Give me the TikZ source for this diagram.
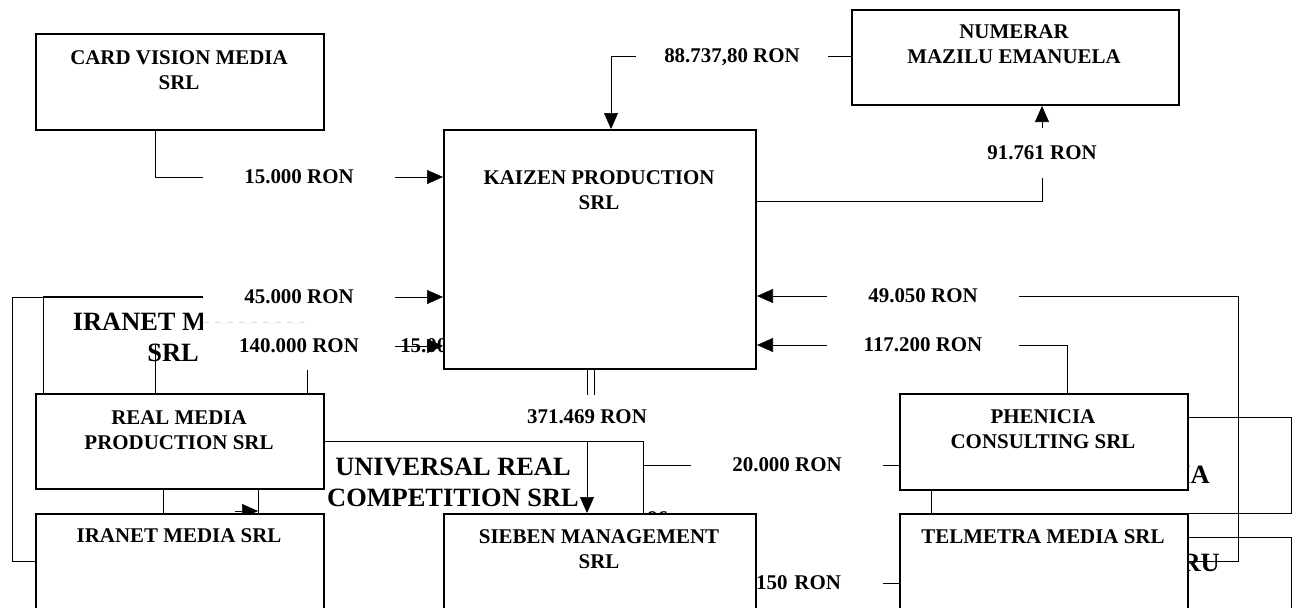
\documentclass[tikz,border=0pt]{standalone}
\usepackage{fontspec}
\setmainfont{Liberation Serif}
\usetikzlibrary{arrows.meta,calc}
\pgfdeclarelayer{bg}
\pgfdeclarelayer{mid}
\pgfsetlayers{bg,mid,main}
\begin{document}
\begin{tikzpicture}[x=0.75pt,y=-0.75pt,line width=1.5pt,
  box/.style={draw,fill=white,rectangle,inner sep=0pt,anchor=north west},
  boxtxt/.style={font=\bfseries\fontsize{15.7}{18.5}\selectfont,align=center,inner sep=0pt,anchor=north},
  bigtxt/.style={font=\bfseries\fontsize{19.8}{23.2}\selectfont,align=center,inner sep=0pt},
  lbl/.style={font=\bfseries\fontsize{15.7}{18.5}\selectfont,inner sep=0pt,text depth=0pt,minimum width=144pt},
  lblw/.style={lbl,fill=white},
  arr/.style={-{Triangle[length=12pt,width=10.5pt]}}]
\useasboundingbox (0,0) rectangle (1303,607);
\clip (0,0) rectangle (1303,607);

% main boxes
\node[box,minimum width=216pt,minimum height=72pt] (cv) at (35,33) {};
\node[box,minimum width=234pt,minimum height=179.25pt] (kz) at (443,129) {};
\node[box,minimum width=245.25pt,minimum height=71.25pt] (nm) at (851,9) {};
\node[box,minimum width=216pt,minimum height=71.25pt] (rm) at (35,393) {};
\node[box,minimum width=216pt,minimum height=95.25pt] (ir) at (35,513) {};
\node[box,minimum width=234pt,minimum height=95.25pt] (sb) at (443,513) {};
\node[box,minimum width=216pt,minimum height=72pt] (ph) at (899,393) {};
\node[box,minimum width=216pt,minimum height=95.25pt] (tm) at (899,513) {};

\node[boxtxt] (cvt) at (179,50) {CARD VISION MEDIA\\SRL};
\node[boxtxt] (kzt) at (599,170) {KAIZEN PRODUCTION\\SRL};
\node[boxtxt] (nmt) at (1014,24) {NUMERAR\\MAZILU EMANUELA};
\node[boxtxt] (rmt) at (179,410) {REAL MEDIA\\PRODUCTION SRL};
\node[boxtxt] (irt) at (179,528) {IRANET MEDIA SRL};
\node[boxtxt] (sbt) at (599,529) {SIEBEN MANAGEMENT\\SRL};
\node[boxtxt] (pht) at (1043,409) {PHENICIA\\CONSULTING SRL};
\node[boxtxt] (tmt) at (1043,529) {TELMETRA MEDIA SRL};

% labels covering hidden parts
\begin{pgfonlayer}{mid}
\node[lblw,minimum height=33.75pt] (l15) at (299,177) {15.000 RON};
\node[lblw,minimum height=37.5pt] (l45) at (299,297) {45.000 RON};
\node[lblw,minimum height=36pt] (l140) at (299,346) {140.000 RON};
\node[lbl,minimum width=0pt,text width=81pt,align=right,inner xsep=31.5pt] (l150) at (787,583) {.150 RON};
\end{pgfonlayer}

% other labels
\node[lbl] (l88) at (732,56) {88.737,80 RON};
\node[lbl,minimum height=37.5pt] (l91) at (1042,153) {91.761 RON};
\node[lbl] (l49) at (923,296) {49.050 RON};
\node[lbl] (l117) at (923,345) {117.200 RON};
\node[lbl] (l20) at (787,465) {20.000 RON};
\node[lbl,minimum height=36pt] (l371) at (587,417) {371.469 RON};

% hidden background elements
\begin{pgfonlayer}{bg}
\node[box,minimum width=198pt,minimum height=108pt] (hI) at (43,296) {};
\node[bigtxt,anchor=north] (hIt) at (173,313) {IRANET MEDIA\\SRL};
\node[box,minimum width=270pt,minimum height=72pt] (hA) at (931,417) {};
\node[bigtxt,anchor=east] (hAt) at (1210,475) {MEDIA};
\node[box,minimum width=270pt,minimum height=77.25pt] (hR) at (931,537) {};
\node[bigtxt,anchor=east] (hRt) at (1220,563) {RU};
\node[lbl,minimum width=0pt,anchor=west] (t15b) at (400,346) {15.000 RON};
\node[lbl,minimum width=0pt,anchor=base west] (t96) at (647,525) {96};
\draw[arr] ($(ir.north west)+(200,-2)$) -- ($(ir.north west)+(223,-2)$);
\end{pgfonlayer}

% connectors
\draw ($(cv.south west)+(120,0)$) |- (l15.west);
\draw[arr] (l15.east) -- (l15.east -| kz.west);
\draw (l45.west) -| ($(ir.north west)+(-23,48)$) -- ($(ir.north west)+(0,48)$);
\draw[arr] (l45.east) -- (l45.east -| kz.west);
\draw ($(rm.north west)+(120,0)$) -- ++(0,-48);
\draw[arr] (l140.east) -- (l140.east -| kz.west);
\draw[gray!25,line width=0.5pt,dash pattern=on 5pt off 4pt] (l45.south west) -- ++(107,0);
\draw[arr] (l88.west) -| ($(kz.north west)+(168,0)$);
\draw (l88.east) -- (l88.east -| nm.west);
\draw ($(kz.north east)+(0,72)$) -| (l91.south);
\draw[arr] (l91.north) -- (l91.north |- nm.south);
\draw[arr] (l49.west) -- (l49.west -| kz.east);
\draw (l49.east) -| ($(tm.north east)+(49,48)$) -- ($(tm.north east)+(0,48)$);
\draw[arr] (l117.west) -- (l117.west -| kz.east);
\draw (l117.east) -| ($(ph.north west)+(168,0)$);
\draw ($(rm.north east)+(0,48)$) -| ($(sb.north west)+(200,0)$);
\draw ($(sb.north west)+(200,-48)$) -- (l20.west);
\draw (l20.east) -- (l20.east -| ph.west);
\draw ($(kz.south west)+(144,0)$) -- ++(0,25);
\draw ($(kz.south west)+(151,0)$) -- ++(0,25);
\draw[arr] ($(sb.north west)+(144,-72)$) -- ($(sb.north west)+(144,0)$);
\draw ($(rm.south west)+(128,0)$) -- ++(0,25);
\draw ($(rm.south west)+(223,0)$) -- ++(0,25);
\draw (l150.east) -- (l150.east -| tm.west);

\node[bigtxt,anchor=north] (ut) at (453,458) {UNIVERSAL REAL\\COMPETITION SRL};
\end{tikzpicture}
\end{document}
